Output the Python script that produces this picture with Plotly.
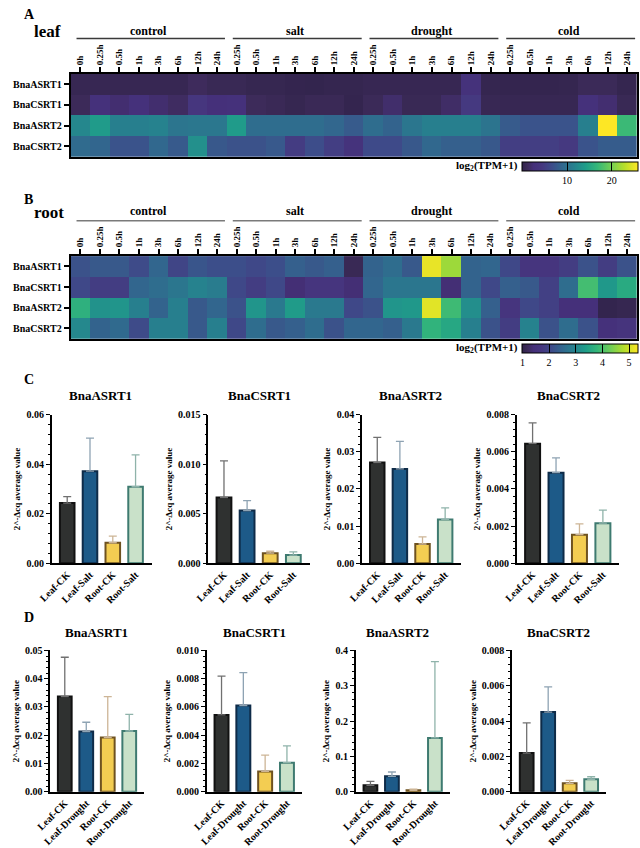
import plotly.graph_objects as go

W, H = 640, 848
FONT = "Liberation Serif"

# ---------------- heatmap data ----------------
genes = ["BnaASRT1", "BnaCSRT1", "BnaASRT2", "BnaCSRT2"]
groups = ["control", "salt", "drought", "cold"]
group_times = [
    ["0h", "0.25h", "0.5h", "1h", "3h", "6h", "12h", "24h"],
    ["0.25h", "0.5h", "1h", "3h", "6h", "12h", "24h"],
    ["0.25h", "0.5h", "1h", "3h", "6h", "12h", "24h"],
    ["0.25h", "0.5h", "1h", "3h", "6h", "12h", "24h"],
]
time_labels = [t for g in group_times for t in g]

# leaf log2(TPM+1)
leaf_ASRT1 = [0.7, 0.7, 0.7, 0.7, 0.7, 0.7, 1.4, 0.9,
              0.9, 0.6, 0.6, 0.4, 0.3, 0.5, 0.5,
              0.7, 0.7, 0.7, 0.7, 0.7, 3.0, 0.5,
              0.4, 0.4, 0.4, 0.5, 1.1, 1.1, 0.5]
leaf_CSRT1 = [1.2, 2.8, 2.2, 2.8, 2.1, 1.6, 4.2, 2.6,
              2.9, 1.3, 1.0, 0.6, 1.0, 1.0, 0.4,
              1.1, 2.0, 0.9, 0.9, 1.8, 4.6, 0.8,
              0.7, 0.7, 0.7, 0.7, 2.9, 2.2, 0.9]
leaf_ASRT2 = [12.2, 14.0, 11.4, 11.4, 11.7, 10.4, 10.6, 10.6,
              14.0, 9.6, 9.6, 9.6, 9.6, 9.0, 8.0,
              9.6, 8.7, 10.5, 11.4, 11.4, 11.4, 10.3,
              8.0, 7.3, 7.3, 7.3, 11.4, 26.0, 17.2]
leaf_CSRT2 = [9.4, 8.9, 7.3, 7.3, 9.1, 7.9, 13.0, 7.7,
              7.2, 7.2, 7.8, 5.0, 6.8, 5.2, 3.5,
              6.5, 6.5, 7.7, 9.1, 8.4, 8.4, 7.7,
              5.2, 5.2, 5.2, 4.6, 7.3, 8.1, 8.1]

# root log2(TPM+1)
root_ASRT1 = [2.2, 2.3, 2.3, 2.1, 2.5, 2.0, 2.25, 2.15,
              2.15, 2.05, 2.15, 2.4, 2.3, 2.4, 1.15,
              2.45, 2.6, 2.3, 5.2, 4.65, 2.45, 2.5,
              2.05, 1.65, 1.65, 1.85, 2.2, 1.85, 2.2]
root_CSRT1 = [2.05, 1.85, 1.85, 2.5, 2.6, 2.75, 2.95, 2.85,
              2.05, 1.85, 2.05, 1.4, 1.65, 1.65, 1.4,
              2.5, 2.75, 2.75, 2.75, 1.4, 2.45, 2.05,
              2.4, 2.3, 1.9, 2.6, 3.95, 3.3, 3.6]
root_ASRT2 = [3.7, 3.2, 3.25, 2.9, 2.45, 2.9, 2.3, 2.5,
              2.2, 3.25, 2.8, 3.35, 2.8, 2.8, 2.05,
              2.2, 3.25, 3.3, 5.15, 3.9, 3.15, 2.4,
              1.65, 2.05, 1.9, 1.45, 1.45, 1.05, 1.1]
root_CSRT2 = [3.05, 2.45, 2.55, 2.1, 2.9, 2.9, 2.3, 2.9,
              2.05, 2.6, 2.3, 2.4, 2.6, 2.2, 2.5,
              2.5, 2.4, 2.8, 3.75, 3.55, 2.9, 2.2,
              1.85, 2.95, 2.2, 2.6, 2.2, 1.5, 1.6]

leaf_z = [leaf_ASRT1, leaf_CSRT1, leaf_ASRT2, leaf_CSRT2]
root_z = [root_ASRT1, root_CSRT1, root_ASRT2, root_CSRT2]
leaf_range = [0, 26]
root_range = [1, 5.35]
leaf_ticks = [10, 20]
root_ticks = [1, 2, 3, 4, 5]

# ---------------- qPCR data ----------------
salt_cats = ["Leaf-CK", "Leaf-Salt", "Root-CK", "Root-Salt"]
drought_cats = ["Leaf-CK", "Leaf-Drought", "Root-CK", "Root-Drought"]

salt_ASRT1 = [0.0243, 0.0372, 0.0083, 0.0309]
salt_ASRT1_err = [0.0026, 0.0133, 0.0027, 0.0129]
salt_CSRT1 = [0.00663, 0.00533, 0.00102, 0.00083]
salt_CSRT1_err = [0.0037, 0.0010, 0.0002, 0.00033]
salt_ASRT2 = [0.0271, 0.0254, 0.0052, 0.0118]
salt_ASRT2_err = [0.0068, 0.0074, 0.0019, 0.0031]
salt_CSRT2 = [0.00644, 0.00488, 0.00154, 0.00216]
salt_CSRT2_err = [0.00112, 0.00079, 0.00058, 0.0007]

drought_ASRT1 = [0.0337, 0.0213, 0.0192, 0.0215]
drought_ASRT1_err = [0.0139, 0.0033, 0.0145, 0.0059]
drought_CSRT1 = [0.00544, 0.0061, 0.00144, 0.00206]
drought_CSRT1_err = [0.00274, 0.00233, 0.00116, 0.00119]
drought_ASRT2 = [0.0184, 0.0436, 0.0042, 0.1525]
drought_ASRT2_err = [0.0112, 0.0123, 0.0031, 0.2162]
drought_CSRT2 = [0.00219, 0.00451, 0.00048, 0.00071]
drought_CSRT2_err = [0.00171, 0.00143, 0.00017, 0.00014]

salt_ymax = [0.06, 0.015, 0.04, 0.008]
salt_dtick = [0.02, 0.005, 0.01, 0.002]
drought_ymax = [0.05, 0.010, 0.4, 0.008]
drought_dtick = [0.01, 0.002, 0.1, 0.002]

# ---------------- styles ----------------
cscale = [[0, "#30234a"], [0.05, "#3d2b5a"], [0.1, "#45307a"], [0.17, "#46377f"],
          [0.25, "#3e4a89"], [0.35, "#31688e"], [0.45, "#26828e"], [0.55, "#1f9e89"],
          [0.65, "#35b779"], [0.76, "#6ece58"], [0.88, "#b5de2b"], [1, "#fde725"]]
bar_fill = ["#2f3130", "#1d5a88", "#f3cd52", "#c9e1c9"]
bar_line = ["#111111", "#0e2b48", "#6e5220", "#3e7a70"]
err_col = ["#707070", "#8ea3b3", "#cdb596", "#8fb3aa"]


def px(x):
    return x / W


def py(y):
    return 1 - y / H


fig = go.Figure()
layout = dict(width=W, height=H, margin=dict(l=0, r=0, t=0, b=0),
              paper_bgcolor="white", plot_bgcolor="white",
              font=dict(family=FONT, color="black"), showlegend=False,
              barmode="overlay")
annotations = []
shapes = []

# ---------------- heatmaps ----------------
hm_x0, hm_x1 = 57, 637
hm_specs = [
    dict(z=leaf_z, top=69, bot=153, ca="coloraxis", rng=leaf_range, ticks=leaf_ticks,
         letter="A", ly=9, tissue="leaf", ty=26, gy=25, liney=33, cby=158, linecol="#3a3a3a"),
    dict(z=root_z, top=254, bot=338, ca="coloraxis2", rng=root_range, ticks=root_ticks,
         letter="B", ly=197, tissue="root", ty=210, gy=208, liney=218, cby=343, linecol="#7a7a7a"),
]
cols = list(range(len(time_labels)))
for i, s in enumerate(hm_specs):
    n = i + 1
    xa = "x" if n == 1 else f"x{n}"
    ya = "y" if n == 1 else f"y{n}"
    fig.add_trace(go.Heatmap(z=s["z"], x=cols, y=genes, coloraxis=s["ca"],
                             xaxis=xa, yaxis=ya, xgap=0, ygap=0))
    layout["xaxis" if n == 1 else f"xaxis{n}"] = dict(
        domain=[px(hm_x0), px(hm_x1)], anchor=ya, side="top",
        tickmode="array", tickvals=cols, ticktext=time_labels, tickangle=-90,
        ticks="outside", ticklen=5, tickwidth=1.5, tickcolor="black",
        tickfont=dict(family=FONT, size=9, weight="bold", color="black"),
        showline=True, linewidth=2, linecolor="black", mirror=True,
        showgrid=False, zeroline=False, range=[-0.5, len(cols) - 0.5])
    layout["yaxis" if n == 1 else f"yaxis{n}"] = dict(
        domain=[py(s["bot"]), py(s["top"])], anchor=xa, autorange="reversed",
        ticks="outside", ticklen=5, tickwidth=1.5, tickcolor="black",
        tickfont=dict(family=FONT, size=10, weight="bold", color="black"),
        showline=True, linewidth=2, linecolor="black", mirror=True,
        showgrid=False, zeroline=False)
    layout[s["ca"]] = dict(
        colorscale=cscale, cmin=s["rng"][0], cmax=s["rng"][1],
        colorbar=dict(orientation="h", x=px(579), xanchor="center",
                      y=py(s["cby"]), yanchor="top", len=116, lenmode="pixels",
                      thickness=9, thicknessmode="pixels", outlinecolor="black",
                      outlinewidth=1, tickmode="array", tickvals=s["ticks"],
                      ticks="inside", ticklen=9, tickcolor="black", tickwidth=1,
                      tickfont=dict(family=FONT, size=10, color="black"), xpad=0, ypad=0))
    annotations.append(dict(text="<b>log<sub>2</sub>(TPM+1)</b>", x=px(517), y=py(s["cby"] + 4.5),
                            xref="paper", yref="paper", xanchor="right", yanchor="middle",
                            showarrow=False, font=dict(family=FONT, size=11, color="black")))
    annotations.append(dict(text=f"<b>{s['letter']}</b>", x=px(7), y=py(s["ly"]),
                            xref="paper", yref="paper", xanchor="left", yanchor="middle",
                            showarrow=False, font=dict(family=FONT, size=14, color="black")))
    annotations.append(dict(text=f"<b>{s['tissue']}</b>", x=px(17), y=py(s["ty"]),
                            xref="paper", yref="paper", xanchor="left", yanchor="middle",
                            showarrow=False, font=dict(family=FONT, size=17, color="black")))
    start = 0
    for g, times in zip(groups, group_times):
        end = start + len(times) - 1
        annotations.append(dict(text=f"<b>{g}</b>", x=(start + end) / 2, y=py(s["gy"]),
                                xref=xa, yref="paper", xanchor="center", yanchor="middle",
                                showarrow=False, font=dict(family=FONT, size=12, color="black")))
        shapes.append(dict(type="line", xref=xa, yref="paper",
                           x0=start - 0.2, x1=end + 0.4, y0=py(s["liney"]), y1=py(s["liney"]),
                           line=dict(color=s["linecol"], width=1.5)))
        start = end + 1

# ---------------- bar charts ----------------
panels = [
    dict(letter="C", ly=379, ty=396, top=415, bot=566, cats=salt_cats,
         data=[(salt_ASRT1, salt_ASRT1_err), (salt_CSRT1, salt_CSRT1_err),
               (salt_ASRT2, salt_ASRT2_err), (salt_CSRT2, salt_CSRT2_err)],
         ymax=salt_ymax, dtick=salt_dtick,
         doms=[(37.6, 139.8), (197.9, 301.6), (355.2, 456.7), (513.7, 618.8)],
         tcx=[88, 250, 405, 567]),
    dict(letter="D", ly=621, ty=636, top=654.5, bot=798, cats=drought_cats,
         data=[(drought_ASRT1, drought_ASRT1_err), (drought_CSRT1, drought_CSRT1_err),
               (drought_ASRT2, drought_ASRT2_err), (drought_CSRT2, drought_CSRT2_err)],
         ymax=drought_ymax, dtick=drought_dtick,
         doms=[(36, 132.4), (196.3, 294.1), (349, 445.4), (509, 605.4)],
         tcx=[83, 245, 392, 557]),
]
bar_genes = ["BnaASRT1", "BnaCSRT1", "BnaASRT2", "BnaCSRT2"]
k = 3
for p in panels:
    annotations.append(dict(text=f"<b>{p['letter']}</b>", x=px(7), y=py(p["ly"]),
                            xref="paper", yref="paper", xanchor="left", yanchor="middle",
                            showarrow=False, font=dict(family=FONT, size=14, color="black")))
    for j in range(4):
        xa, ya = f"x{k}", f"y{k}"
        means, errs = p["data"][j]
        for c in range(4):
            fig.add_trace(go.Bar(
                x=[p["cats"][c]], y=[means[c]], xaxis=xa, yaxis=ya, width=0.64,
                marker=dict(color=bar_fill[c], line=dict(color=bar_line[c], width=2)),
                error_y=dict(type="data", symmetric=False, array=[errs[c]], arrayminus=[0],
                             color=err_col[c], thickness=1.3, width=4)))
        dt = p["dtick"][j]
        dec = 1 if dt >= 0.1 else (2 if dt >= 0.01 else 3)
        layout[f"xaxis{k}"] = dict(
            domain=[px(p["doms"][j][0]), px(p["doms"][j][1])], anchor=ya,
            type="category", categoryorder="array", categoryarray=p["cats"],
            range=[-0.68, 3.7], tickangle=-45, ticks="",
            tickfont=dict(family=FONT, size=10, weight="bold", color="black"),
            showline=True, linewidth=1.5, linecolor="black", showgrid=False, zeroline=False)
        layout[f"yaxis{k}"] = dict(
            domain=[py(p["bot"]), py(p["top"])], anchor=xa,
            range=[0, p["ymax"][j]], tick0=0, dtick=dt, tickformat=f".{dec}f",
            ticks="outside", ticklen=4, tickwidth=1.3, tickcolor="black",
            minor=dict(ticks="outside", ticklen=2, dtick=dt / 5, tickcolor="black", tickwidth=1),
            tickfont=dict(family=FONT, size=10, weight="bold", color="black"),
            title=dict(text="2^-Δcq average value", standoff=4,
                       font=dict(family=FONT, size=9, weight="bold", color="black")),
            showline=True, linewidth=1.5, linecolor="black", showgrid=False, zeroline=False)
        annotations.append(dict(text=f"<b>{bar_genes[j]}</b>", x=px(p["tcx"][j]), y=py(p["ty"]),
                                xref="paper", yref="paper", xanchor="center", yanchor="middle",
                                showarrow=False, font=dict(family=FONT, size=13, color="black")))
        k += 1

layout["annotations"] = annotations
layout["shapes"] = shapes
fig.update_layout(**layout)
fig.write_html("out.html")
